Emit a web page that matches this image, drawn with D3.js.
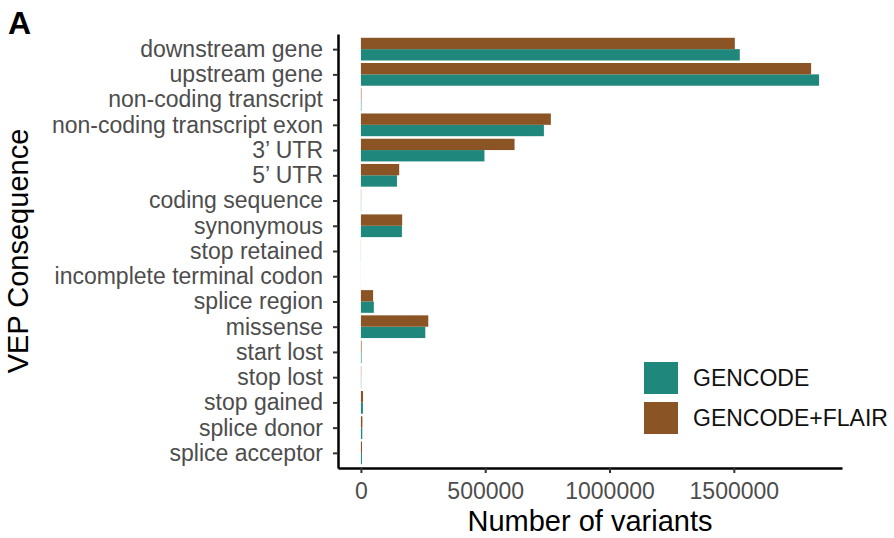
<!DOCTYPE html>
<html>
<head>
<meta charset="utf-8">
<script src="https://cdn.jsdelivr.net/npm/d3@7"></script>
<style>
  html, body { margin: 0; padding: 0; background: #ffffff; }
  svg { display: block; font-family: "Liberation Sans", Arial, Helvetica, sans-serif; }
</style>
</head>
<body>
<svg id="chart" width="894" height="538"></svg>
<script>
// ---- data ----
const categories = [
  "downstream gene",
  "upstream gene",
  "non-coding transcript",
  "non-coding transcript exon",
  "3\u2019 UTR",
  "5\u2019 UTR",
  "coding sequence",
  "synonymous",
  "stop retained",
  "incomplete terminal codon",
  "splice region",
  "missense",
  "start lost",
  "stop lost",
  "stop gained",
  "splice donor",
  "splice acceptor"
];
const seriesNames = ["GENCODE", "GENCODE+FLAIR"];
const gencode = [1524000, 1843000, 1800, 736000, 497000, 145000, 800, 165000, 350, 150, 52000, 259000, 2300, 1100, 8000, 5500, 4200];
const gencodeFlair = [1504000, 1811000, 2000, 764000, 618000, 154000, 900, 166000, 400, 170, 49000, 271000, 2500, 1200, 8500, 6000, 4500];
const xTicks = [0, 500000, 1000000, 1500000];
const colors = { "GENCODE": "#1f877b", "GENCODE+FLAIR": "#8b5424" };

// ---- layout ----
const svg = d3.select("#chart");
const panel = { left: 338, right: 842, top: 34, bottom: 468 };

const maxVal = d3.max(gencode.concat(gencodeFlair));
const pad = maxVal * 0.05;
const x = d3.scaleLinear().domain([-pad, maxVal + pad]).range([panel.left, panel.right]);
const y = d3.scalePoint().domain(categories).range([panel.top, panel.bottom]).padding(0.6);
const step = y.step();
const sub = d3.scaleBand().domain(["GENCODE+FLAIR", "GENCODE"]).range([-0.45 * step, 0.45 * step]);

const rows = [];
categories.forEach((c, i) => {
  rows.push({ cat: c, series: "GENCODE", value: gencode[i] });
  rows.push({ cat: c, series: "GENCODE+FLAIR", value: gencodeFlair[i] });
});

// bars
svg.append("g").selectAll("rect").data(rows).join("rect")
  .attr("x", x(0))
  .attr("y", d => y(d.cat) + sub(d.series))
  .attr("width", d => Math.max(0, x(d.value) - x(0)))
  .attr("height", sub.bandwidth())
  .attr("fill", d => colors[d.series]);

// y axis
const yAxis = svg.append("g")
  .attr("transform", `translate(${panel.left},0)`)
  .call(d3.axisLeft(y).tickSize(5).tickSizeOuter(0).tickPadding(10));
yAxis.select(".domain").attr("stroke", "#000").attr("stroke-width", 2.5);
yAxis.selectAll(".tick line").attr("stroke", "#333").attr("stroke-width", 2);
yAxis.selectAll(".tick text").attr("fill", "#4d4d4d").attr("font-size", 23)
  .attr("font-family", "Liberation Sans, Arial, sans-serif");

// x axis
const xAxis = svg.append("g")
  .attr("transform", `translate(0,${panel.bottom})`)
  .call(d3.axisBottom(x).tickValues(xTicks).tickFormat(d3.format("d")).tickSize(5).tickSizeOuter(0).tickPadding(10));
xAxis.select(".domain").attr("stroke", "#000").attr("stroke-width", 2.5);
xAxis.selectAll(".tick line").attr("stroke", "#333").attr("stroke-width", 2);
xAxis.selectAll(".tick text").attr("fill", "#4d4d4d").attr("font-size", 23)
  .attr("font-family", "Liberation Sans, Arial, sans-serif");

// axis titles
svg.append("text")
  .attr("x", (panel.left + panel.right) / 2)
  .attr("y", 531)
  .attr("text-anchor", "middle")
  .attr("font-size", 29)
  .attr("fill", "#000")
  .text("Number of variants");

svg.append("text")
  .attr("transform", `translate(28,${(panel.top + panel.bottom) / 2}) rotate(-90)`)
  .attr("text-anchor", "middle")
  .attr("font-size", 29)
  .attr("fill", "#000")
  .text("VEP Consequence");

// panel tag
svg.append("text")
  .attr("x", 8)
  .attr("y", 34)
  .attr("font-size", 32)
  .attr("font-weight", "bold")
  .attr("fill", "#000")
  .text("A");

// legend
const legend = svg.append("g").attr("transform", "translate(644,362)");
seriesNames.forEach((s, i) => {
  const g = legend.append("g").attr("transform", `translate(0,${i * 40})`);
  g.append("rect").attr("width", 34).attr("height", 32).attr("fill", colors[s]);
  g.append("text").attr("x", 49).attr("y", 24).attr("font-size", 23).attr("fill", "#111").text(s);
});
</script>
</body>
</html>
